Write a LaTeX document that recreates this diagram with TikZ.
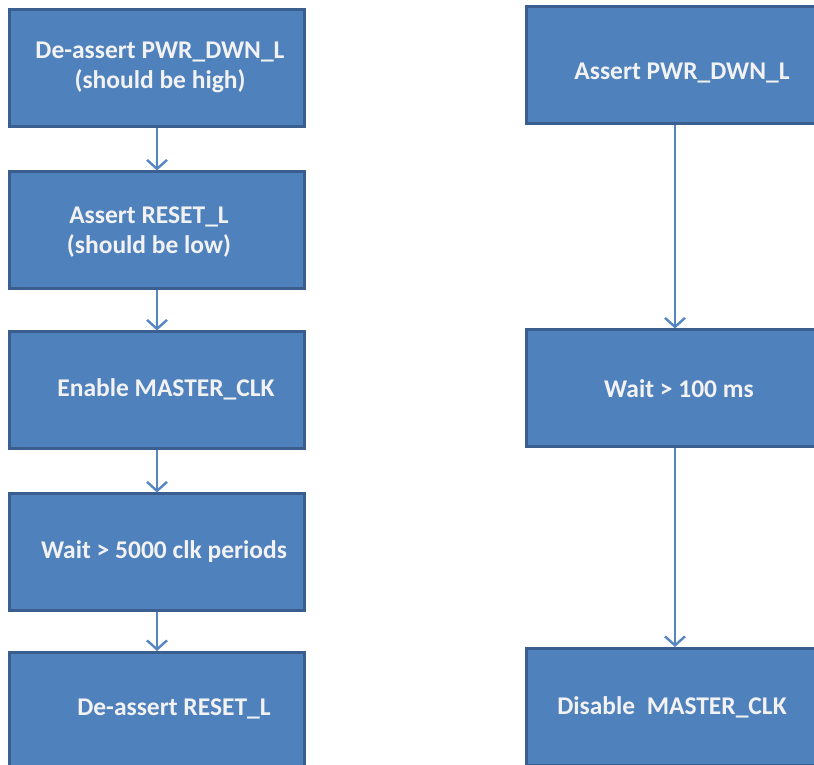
\documentclass[tikz,border=0pt]{standalone}
\usepackage{fontspec}
\setmainfont{Carlito}
\usetikzlibrary{arrows.meta}
\definecolor{boxfill}{HTML}{4F81BD}
\definecolor{boxline}{HTML}{3A5F8E}
\definecolor{txtcol}{HTML}{F2F2F2}
\definecolor{arrcol}{HTML}{5686C2}
\tikzset{
  box/.style={rectangle, fill=boxfill, draw=boxline, line width=3pt, inner sep=0pt},
  lbox/.style={box, minimum width=295pt, minimum height=117pt},
  rbox/.style={box, minimum width=297pt, minimum height=117pt},
  lab/.style={text=txtcol, font=\fontsize{25.5}{30}\selectfont\bfseries, align=center, inner sep=0pt},
  arr/.style={draw=arrcol, line width=2.4pt, -{Straight Barb[length=9pt, width=20pt, line width=2.4pt]}}
}
\begin{document}
\begin{tikzpicture}[x=1pt, y=1pt]
\useasboundingbox (0,0) rectangle (814,765);
\begin{scope}
\clip (0,0) rectangle (814,765);
% left column
\node[lbox] (b1) at (157,697) {};
\node[lbox] (b2) at (157,534.5) {};
\node[lbox] (b3) at (157,374.5) {};
\node[lbox] (b4) at (157,212.5) {};
\node[lbox] (b5) at (157,54) {};
% right column
\node[rbox] (r1) at (675,699.5) {};
\node[rbox] (r2) at (675,376.5) {};
\node[rbox] (r3) at (675,58) {};
% labels
\node[lab] (t1) at (160,698) {De-assert PWR\_DWN\_L\\(should be high)};
\node[lab] (t2) at (149,533) {Assert RESET\_L\\(should be low)};
\node[lab] (t3) at (166,376) {Enable MASTER\_CLK};
\node[lab] (t4) at (164,213) {Wait > 5000 clk periods};
\node[lab] (t5) at (174,56) {De-assert RESET\_L};
\node[lab] (u1) at (682,692) {Assert PWR\_DWN\_L};
\node[lab] (u2) at (679,376) {Wait > 100 ms};
\node[lab] (u3) at (672,58) {Disable\ \ MASTER\_CLK};
% arrows
\draw[arr] (b1.south) -- (b2.north);
\draw[arr] (b2.south) -- (b3.north);
\draw[arr] (b3.south) -- (b4.north);
\draw[arr] (b4.south) -- (b5.north);
\draw[arr] (r1.south) -- (r2.north);
\draw[arr] (r2.south) -- (r3.north);
\end{scope}
\end{tikzpicture}
\end{document}
